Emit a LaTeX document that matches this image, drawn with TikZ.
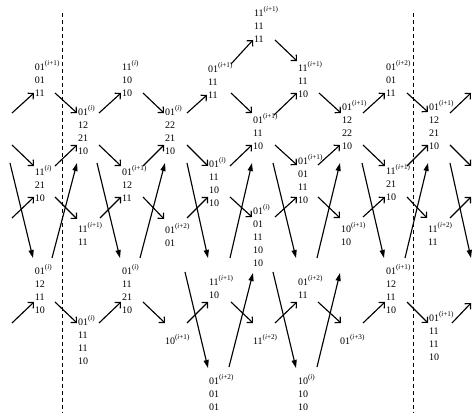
\documentclass[tikz,border=0pt]{standalone}
\usepackage{fontspec}
\setmainfont{Liberation Serif}
\usetikzlibrary{arrows.meta}
\newcommand\sps[1]{\raisebox{4.2pt}{\fontsize{5.4}{6}\selectfont(\textit{i}#1)}}
\newcommand\stk[1]{\vtop{\baselineskip=9.75pt\lineskiplimit=-100pt\lineskip=0pt\halign{##\hfil\cr#1\crcr}}}
\begin{document}
\begin{tikzpicture}[x=0.75pt,y=-0.75pt,
  lbl/.style={anchor=base west,inner sep=0pt,outer sep=0pt,font=\fontsize{7.5}{9.75}\selectfont},
  sa/.style={line width=0.85pt,-{Straight Barb[length=3.1pt,width=6.2pt]}},
  la/.style={line width=0.85pt,-{Triangle[length=6pt,width=3.8pt]}},
  divider/.style={line width=0.75pt,dash pattern=on 3pt off 2.25pt}]
\useasboundingbox (0,0) rectangle (472,413);
% dashed period separators
\draw[divider] (62,13) -- (62,413);
\draw[divider] (413,13) -- (413,413);
% nodes
\node[lbl] (A1) at (35,71)  {\stk{01\sps{+1}\cr 01\cr 11}};
\node[lbl] (A2) at (35,176) {\stk{11\sps{}\cr 21\cr 10}};
\node[lbl] (A3) at (35,275) {\stk{01\sps{}\cr 12\cr 11\cr 10}};
\node[lbl] (B1) at (78,116) {\stk{01\sps{}\cr 12\cr 21\cr 10}};
\node[lbl] (B2) at (78,233) {\stk{11\sps{+1}\cr 11}};
\node[lbl] (B3) at (78,326) {\stk{01\sps{}\cr 11\cr 11\cr 10}};
\node[lbl] (C1) at (122,71) {\stk{11\sps{}\cr 10\cr 10}};
\node[lbl] (C2) at (122,176) {\stk{01\sps{+1}\cr 12\cr 11}};
\node[lbl] (C3) at (122,275) {\stk{01\sps{}\cr 11\cr 21\cr 10}};
\node[lbl] (D1) at (165,116) {\stk{01\sps{}\cr 22\cr 21\cr 10}};
\node[lbl] (D2) at (165,234) {\stk{01\sps{+2}\cr 01}};
\node[lbl] (D3) at (165,345) {\stk{10\sps{+1}}};
\node[lbl] (E1) at (208,73) {\stk{01\sps{+1}\cr 11\cr 11}};
\node[lbl] (E2) at (209,168) {\stk{01\sps{}\cr 11\cr 10\cr 10}};
\node[lbl] (E3) at (209,286) {\stk{11\sps{+1}\cr 10}};
\node[lbl] (E4) at (209,385) {\stk{01\sps{+2}\cr 01\cr 01}};
\node[lbl] (F0) at (254,17) {\stk{11\sps{+1}\cr 11\cr 11}};
\node[lbl] (F1) at (253,124) {\stk{01\sps{+1}\cr 11\cr 10}};
\node[lbl] (F2) at (253,215) {\stk{01\sps{}\cr 01\cr 11\cr 10\cr 10}};
\node[lbl] (F3) at (253,345) {\stk{11\sps{+2}}};
\node[lbl] (G1) at (298,72) {\stk{11\sps{+1}\cr 11\cr 10}};
\node[lbl] (G2) at (298,165) {\stk{01\sps{+1}\cr 01\cr 11\cr 10}};
\node[lbl] (G3) at (298,286) {\stk{01\sps{+2}\cr 11}};
\node[lbl] (G4) at (298,385) {\stk{10\sps{}\cr 10\cr 10}};
\node[lbl] (H1) at (342,111) {\stk{01\sps{+1}\cr 12\cr 22\cr 10}};
\node[lbl] (H2) at (341,233) {\stk{10\sps{+1}\cr 10}};
\node[lbl] (H3) at (340,345) {\stk{01\sps{+3}}};
\node[lbl] (I1) at (386,71) {\stk{01\sps{+2}\cr 01\cr 11}};
\node[lbl] (I2) at (386,175) {\stk{11\sps{+1}\cr 21\cr 10}};
\node[lbl] (I3) at (386,275) {\stk{01\sps{+1}\cr 12\cr 11\cr 10}};
\node[lbl] (J1) at (429,111) {\stk{01\sps{+1}\cr 12\cr 21\cr 10}};
\node[lbl] (J2) at (428,233) {\stk{11\sps{+2}\cr 11}};
\node[lbl] (J3) at (429,322) {\stk{01\sps{+1}\cr 11\cr 11\cr 10}};
% free ends
\coordinate (ls) at (12,113);
\coordinate (lm) at (12,145);
\coordinate (ln) at (12,218);
\coordinate (lp) at (12,323);
\coordinate (ll) at (10,163);
\coordinate (rs) at (471,93);
\coordinate (rm) at (471,166);
\coordinate (rn) at (471,197);
\coordinate (rp) at (471,303);
\coordinate (rl) at (471,258);
% top band
\draw[sa] (ls) -- ([shift={(-1,22)}]A1.base west);
\draw[sa] ([shift={(20,22)}]A1.base west) -- ([shift={(-1,-3)}]B1.base west);
\draw[sa] ([shift={(21,-3)}]B1.base west) -- ([shift={(-1,22)}]C1.base west);
\draw[sa] ([shift={(21,22)}]C1.base west) -- ([shift={(-1,-3)}]D1.base west);
\draw[sa] ([shift={(22,-3)}]D1.base west) -- ([shift={(-1,22)}]E1.base west);
\draw[sa] ([shift={(23,-9)}]E1.base west) -- ([shift={(-1,23)}]F0.base west);
\draw[sa] ([shift={(21,23)}]F0.base west) -- ([shift={(-1,-11)}]G1.base west);
\draw[sa] ([shift={(23,20)}]E1.base west) -- ([shift={(-1,-11)}]F1.base west);
\draw[sa] ([shift={(21,-9)}]F1.base west) -- ([shift={(-1,21)}]G1.base west);
\draw[sa] ([shift={(21,21)}]G1.base west) -- ([shift={(-1,2)}]H1.base west);
\draw[sa] ([shift={(21,2)}]H1.base west) -- ([shift={(-1,22)}]I1.base west);
\draw[sa] ([shift={(21,22)}]I1.base west) -- ([shift={(-1,1)}]J1.base west);
\draw[sa] ([shift={(21,2)}]J1.base west) -- (rs);
% middle band 1
\draw[sa] (lm) -- ([shift={(-1,-10)}]A2.base west);
\draw[sa] ([shift={(20,-10)}]A2.base west) -- ([shift={(-1,29)}]B1.base west);
\draw[sa] ([shift={(21,29)}]B1.base west) -- ([shift={(-1,-10)}]C2.base west);
\draw[sa] ([shift={(21,-10)}]C2.base west) -- ([shift={(-1,29)}]D1.base west);
\draw[sa] ([shift={(22,29)}]D1.base west) -- ([shift={(-1,-2)}]E2.base west);
\draw[sa] ([shift={(21,-2)}]E2.base west) -- ([shift={(-1,21)}]F1.base west);
\draw[sa] ([shift={(22,21)}]F1.base west) -- ([shift={(-1,0)}]G2.base west);
\draw[sa] ([shift={(20,0)}]G2.base west) -- ([shift={(-2,34)}]H1.base west);
\draw[sa] ([shift={(21,34)}]H1.base west) -- ([shift={(-1,-9)}]I2.base west);
\draw[sa] ([shift={(21,-9)}]I2.base west) -- ([shift={(-1,34)}]J1.base west);
\draw[sa] ([shift={(21,34)}]J1.base west) -- (rm);
% middle band 2
\draw[sa] (ln) -- ([shift={(-1,21)}]A2.base west);
\draw[sa] ([shift={(20,21)}]A2.base west) -- ([shift={(-1,-14)}]B2.base west);
\draw[sa] ([shift={(22,-15)}]B2.base west) -- ([shift={(-1,21)}]C2.base west);
\draw[sa] ([shift={(21,21)}]C2.base west) -- ([shift={(-1,-15)}]D2.base west);
\draw[sa] ([shift={(22,-16)}]D2.base west) -- ([shift={(-1,29)}]E2.base west);
\draw[sa] ([shift={(21,29)}]E2.base west) -- ([shift={(-1,2)}]F2.base west);
\draw[sa] ([shift={(22,2)}]F2.base west) -- ([shift={(-1,32)}]G2.base west);
\draw[sa] ([shift={(20,32)}]G2.base west) -- ([shift={(-1,-15)}]H2.base west);
\draw[sa] ([shift={(22,-16)}]H2.base west) -- ([shift={(-1,22)}]I2.base west);
\draw[sa] ([shift={(21,22)}]I2.base west) -- ([shift={(-1,-15)}]J2.base west);
\draw[sa] ([shift={(22,-15)}]J2.base west) -- (rn);
% lower band
\draw[sa] (lp) -- ([shift={(-1,27)}]A3.base west);
\draw[sa] ([shift={(20,27)}]A3.base west) -- ([shift={(-1,-3)}]B3.base west);
\draw[sa] ([shift={(21,-3)}]B3.base west) -- ([shift={(-1,27)}]C3.base west);
\draw[sa] ([shift={(21,27)}]C3.base west) -- ([shift={(0,-22)}]D3.base west);
\draw[sa] ([shift={(22,-22)}]D3.base west) -- ([shift={(-1,16)}]E3.base west);
\draw[sa] ([shift={(22,16)}]E3.base west) -- ([shift={(0,-22)}]F3.base west);
\draw[sa] ([shift={(22,-22)}]F3.base west) -- ([shift={(-1,16)}]G3.base west);
\draw[sa] ([shift={(20,16)}]G3.base west) -- ([shift={(1,-22)}]H3.base west);
\draw[sa] ([shift={(23,-22)}]H3.base west) -- ([shift={(-1,27)}]I3.base west);
\draw[sa] ([shift={(21,27)}]I3.base west) -- ([shift={(-1,1)}]J3.base west);
\draw[sa] ([shift={(23,1)}]J3.base west) -- (rp);
% long arrows
\draw[la] (ll) -- ([shift={(-2,-17)}]A3.base west);
\draw[la] ([shift={(17,-17)}]A3.base west) -- ([shift={(-1,47)}]B1.base west);
\draw[la] ([shift={(19,47)}]B1.base west) -- ([shift={(-2,-17)}]C3.base west);
\draw[la] ([shift={(18,-17)}]C3.base west) -- ([shift={(0,47)}]D1.base west);
\draw[la] ([shift={(22,47)}]D1.base west) -- ([shift={(-1,-28)}]E3.base west);
\draw[la] ([shift={(21,-28)}]E3.base west) -- ([shift={(-1,39)}]F1.base west);
\draw[la] ([shift={(20,39)}]F1.base west) -- ([shift={(-2,-28)}]G3.base west);
\draw[la] ([shift={(19,-28)}]G3.base west) -- ([shift={(-2,52)}]H1.base west);
\draw[la] ([shift={(20,52)}]H1.base west) -- ([shift={(-2,-17)}]I3.base west);
\draw[la] ([shift={(19,-17)}]I3.base west) -- ([shift={(-1,52)}]J1.base west);
\draw[la] ([shift={(21,52)}]J1.base west) -- (rl);
\draw[la] ([shift={(20,38)}]D2.base west) -- ([shift={(-1,-17)}]E4.base west);
\draw[la] ([shift={(20,-18)}]E4.base west) -- ([shift={(0,58)}]F2.base west);
\draw[la] ([shift={(20,57)}]F2.base west) -- ([shift={(-2,-17)}]G4.base west);
\draw[la] ([shift={(19,-18)}]G4.base west) -- ([shift={(-1,40)}]H2.base west);
\end{tikzpicture}
\end{document}
